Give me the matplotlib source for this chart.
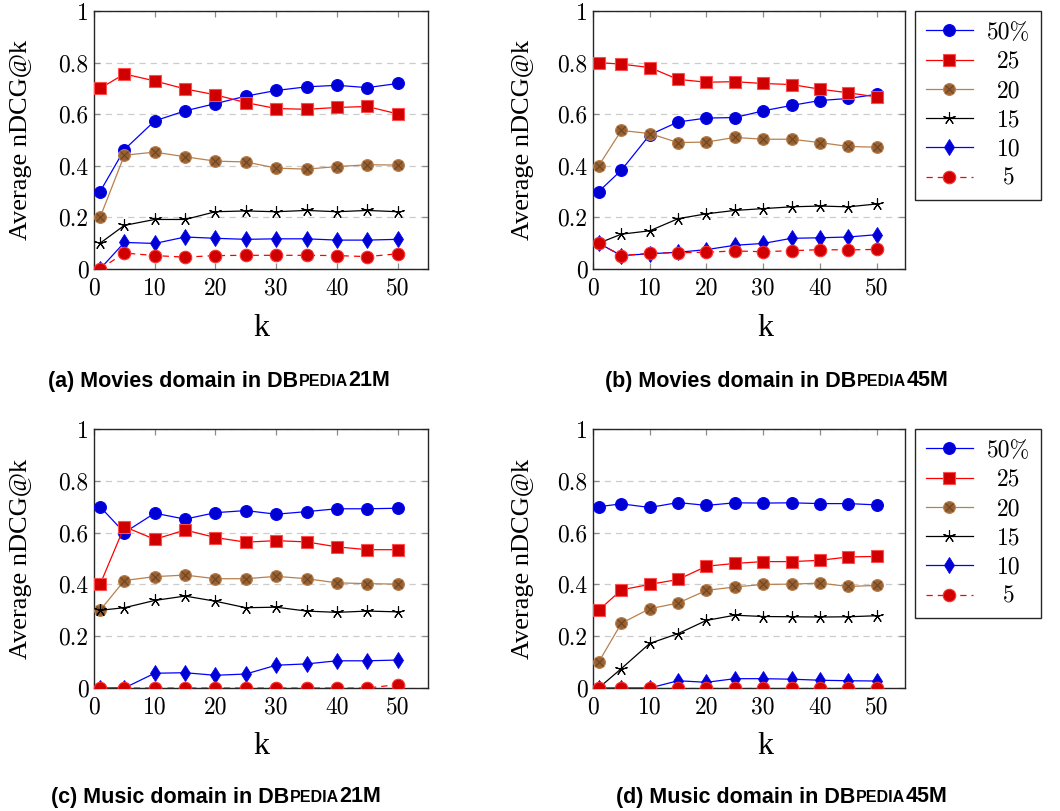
import matplotlib
matplotlib.use("Agg")
import matplotlib.pyplot as plt
from matplotlib.legend_handler import HandlerTuple
from matplotlib.offsetbox import TextArea, HPacker, AnchoredOffsetbox

############# DATA #############################################################

k_values = [1, 5, 10, 15, 20, 25, 30, 35, 40, 45, 50]
series_labels = ["50%", "25", "20", "15", "10", "5"]

# (a) Movies domain in DBpedia21M
movies21_50 = [0.30, 0.463, 0.574, 0.613, 0.641, 0.670, 0.692, 0.706, 0.712, 0.703, 0.719]
movies21_25 = [0.70, 0.756, 0.729, 0.698, 0.675, 0.645, 0.622, 0.619, 0.626, 0.630, 0.601]
movies21_20 = [0.20, 0.441, 0.453, 0.435, 0.418, 0.415, 0.391, 0.387, 0.397, 0.404, 0.403]
movies21_15 = [0.10, 0.169, 0.192, 0.192, 0.222, 0.225, 0.222, 0.227, 0.222, 0.227, 0.222]
movies21_10 = [0.0, 0.103, 0.099, 0.124, 0.119, 0.115, 0.117, 0.117, 0.112, 0.112, 0.115]
movies21_5 = [0.0, 0.062, 0.052, 0.046, 0.052, 0.053, 0.053, 0.053, 0.052, 0.048, 0.059]

# (b) Movies domain in DBpedia45M
movies45_50 = [0.30, 0.383, 0.520, 0.570, 0.585, 0.587, 0.613, 0.634, 0.653, 0.661, 0.677]
movies45_25 = [0.80, 0.794, 0.781, 0.735, 0.724, 0.726, 0.719, 0.715, 0.697, 0.683, 0.667]
movies45_20 = [0.40, 0.537, 0.525, 0.490, 0.492, 0.510, 0.503, 0.503, 0.490, 0.475, 0.472]
movies45_15 = [0.10, 0.135, 0.148, 0.195, 0.214, 0.227, 0.234, 0.241, 0.244, 0.241, 0.252]
movies45_10 = [0.10, 0.052, 0.059, 0.065, 0.075, 0.092, 0.099, 0.119, 0.121, 0.124, 0.133]
movies45_5 = [0.10, 0.052, 0.061, 0.063, 0.065, 0.070, 0.067, 0.071, 0.075, 0.074, 0.076]

# (c) Music domain in DBpedia21M
music21_50 = [0.70, 0.600, 0.675, 0.652, 0.677, 0.685, 0.671, 0.681, 0.692, 0.692, 0.694]
music21_25 = [0.40, 0.623, 0.574, 0.610, 0.581, 0.563, 0.569, 0.564, 0.545, 0.534, 0.534]
music21_20 = [0.30, 0.415, 0.430, 0.436, 0.422, 0.422, 0.431, 0.422, 0.406, 0.403, 0.401]
music21_15 = [0.30, 0.310, 0.338, 0.355, 0.335, 0.310, 0.312, 0.297, 0.292, 0.297, 0.294]
music21_10 = [0.0, 0.0, 0.057, 0.059, 0.049, 0.054, 0.088, 0.093, 0.105, 0.105, 0.108]
music21_5 = [0.0, 0.0, 0.0, 0.0, 0.0, 0.0, 0.0, 0.0, 0.0, 0.0, 0.013]

# (d) Music domain in DBpedia45M
music45_50 = [0.70, 0.711, 0.697, 0.716, 0.705, 0.715, 0.714, 0.715, 0.712, 0.712, 0.707]
music45_25 = [0.30, 0.379, 0.400, 0.419, 0.470, 0.481, 0.488, 0.488, 0.493, 0.506, 0.508]
music45_20 = [0.10, 0.250, 0.306, 0.328, 0.377, 0.390, 0.400, 0.401, 0.405, 0.392, 0.396]
music45_15 = [0.0, 0.075, 0.172, 0.210, 0.261, 0.281, 0.276, 0.275, 0.274, 0.275, 0.279]
music45_10 = [0.0, 0.0, 0.0, 0.028, 0.022, 0.036, 0.036, 0.034, 0.030, 0.028, 0.027]
music45_5 = [0.0, 0.0, 0.0, 0.0, 0.0, 0.0, 0.0, 0.0, 0.0, 0.0, 0.0]

x_ticks = [0, 10, 20, 30, 40, 50]
y_ticks = [0, 0.2, 0.4, 0.6, 0.8, 1]
y_tick_labels = ["0", "0.2", "0.4", "0.6", "0.8", "1"]

panels = [
	("a", "Movies domain in DB", "21M",
		[movies21_50, movies21_25, movies21_20, movies21_15, movies21_10, movies21_5]),
	("b", "Movies domain in DB", "45M",
		[movies45_50, movies45_25, movies45_20, movies45_15, movies45_10, movies45_5]),
	("c", "Music domain in DB", "21M",
		[music21_50, music21_25, music21_20, music21_15, music21_10, music21_5]),
	("d", "Music domain in DB", "45M",
		[music45_50, music45_25, music45_20, music45_15, music45_10, music45_5]),
]

############# STYLE ############################################################

W, H = 1060.0, 811.0
# axes boxes in pixels: left, top, right, bottom
boxes = [(94, 11, 428, 269), (593, 11, 905, 269), (94, 429, 428, 688), (593, 429, 905, 688)]
xlabel_pos = [(261, 329), (765, 329), (261, 746), (765, 746)]
ylabel_x = [21, 523, 21, 523]
caption_pos = [(219, 381), (777, 381), (216, 797), (782, 797)]

BLUE = (0, 0, 1)
BLUE_FILL = (0, 0, 0.82)
RED = (1, 0, 0)
RED_FILL = (0.82, 0, 0)
BROWN = (0.72, 0.5, 0.3)
BROWN_FILL = (0.6, 0.38, 0.2)

tick_font = dict(family="cmr10", size=17)
serif = "Liberation Serif"


def draw_series(ax, values):
	handles = []
	h, = ax.plot(k_values, values[0], color=BLUE, lw=0.9, marker="o", ms=8.5,
		mfc=BLUE_FILL, mec=BLUE, mew=0.8, zorder=3)
	handles.append(h)
	h, = ax.plot(k_values, values[1], color=RED, lw=0.9, marker="s", ms=8.5,
		mfc=RED_FILL, mec=(1, 0.3, 0.3), mew=0.8, zorder=4)
	handles.append(h)
	h1, = ax.plot(k_values, values[2], color=BROWN, lw=0.9, marker="o", ms=8.5,
		mfc=BROWN_FILL, mec=BROWN, mew=0.8, zorder=5)
	h2, = ax.plot(k_values, values[2], ls="none", marker="x", ms=6,
		mec=(0.42, 0.27, 0.13), mew=0.8, zorder=5.1)
	handles.append((h1, h2))
	h, = ax.plot(k_values, values[3], color="black", lw=0.9, marker=(5, 2, 0), ms=9,
		mec="black", mew=0.8, zorder=6)
	handles.append(h)
	h, = ax.plot(k_values, values[4], color=BLUE, lw=0.9, marker="d", ms=8.5,
		mfc=BLUE_FILL, mec=BLUE, mew=0.6, zorder=7)
	handles.append(h)
	h, = ax.plot(k_values, values[5], color=RED, lw=0.9, ls=(0, (5, 4)), marker="o", ms=9,
		mfc=RED_FILL, mec=(1, 0.2, 0.2), mew=0.8, zorder=8)
	handles.append(h)
	return handles


fig = plt.figure(figsize=(W / 100, H / 100), dpi=100)

legends = []
for i, (letter, name, suffix, values) in enumerate(panels):
	l, t, r, b = boxes[i]
	ax = fig.add_axes([l / W, 1 - b / H, (r - l) / W, (b - t) / H])
	handles = draw_series(ax, values)

	ax.set_xlim(0, 55)
	ax.set_ylim(0, 1)
	ax.set_xticks(x_ticks)
	ax.set_yticks(y_ticks)
	ax.set_xticklabels([str(x) for x in x_ticks], fontdict=tick_font)
	ax.set_yticklabels(y_tick_labels, fontdict=tick_font)
	ax.tick_params(direction="in", length=4, width=0.9, color="0.55",
		top=True, right=True)
	ax.tick_params(axis="x", pad=6)
	ax.tick_params(axis="y", pad=4)
	ax.yaxis.grid(True, color="0.8", ls=(0, (5, 4)), lw=0.9)
	ax.set_axisbelow(True)
	for s in ax.spines.values():
		s.set_linewidth(1.0)
		s.set_color("0.15")

	fig.text(xlabel_pos[i][0] / W, 1 - xlabel_pos[i][1] / H, "k", family=serif,
		size=23, ha="center", va="center")
	fig.text(ylabel_x[i] / W, 1 - (t + b) / 2 / H, "Average nDCG@k", family=serif,
		size=19, rotation=90, ha="center", va="center")

	# caption with small caps "PEDIA"
	bold = dict(family="Liberation Sans", weight="bold")
	parts = [
		TextArea("(%s) %s" % (letter, name), textprops=dict(size=15.5, **bold)),
		TextArea("PEDIA", textprops=dict(size=11.5, **bold)),
		TextArea(suffix, textprops=dict(size=15.5, **bold)),
	]
	box = HPacker(children=parts, align="baseline", pad=0, sep=0.5)
	cx, cy = caption_pos[i]
	anchored = AnchoredOffsetbox(loc="center", child=box, pad=0, borderpad=0, frameon=False,
		bbox_to_anchor=(cx / W, 1 - cy / H), bbox_transform=fig.transFigure)
	fig.add_artist(anchored)

	if letter in ("b", "d"):
		leg = fig.legend(handles, series_labels, loc="upper left",
			bbox_to_anchor=(915 / W, 1 - t / H), prop=dict(family="cmr10", size=17),
			handler_map={tuple: HandlerTuple(ndivide=1)},
			handlelength=2.0, handletextpad=0.6, labelspacing=0.3, borderpad=0.45,
			borderaxespad=0, fancybox=False, edgecolor="0.15", framealpha=1)
		leg.get_frame().set_linewidth(1.0)
		legends.append(leg)

# centre the legend entries the way pgfplots does
fig.canvas.draw()
for leg in legends:
	texts = leg.get_texts()
	widths = [tx.get_window_extent().width for tx in texts]
	wmax = max(widths)
	for tx, w in zip(texts, widths):
		tx.set_x((wmax - w) / 2)

fig.savefig("out.png", dpi=100)
